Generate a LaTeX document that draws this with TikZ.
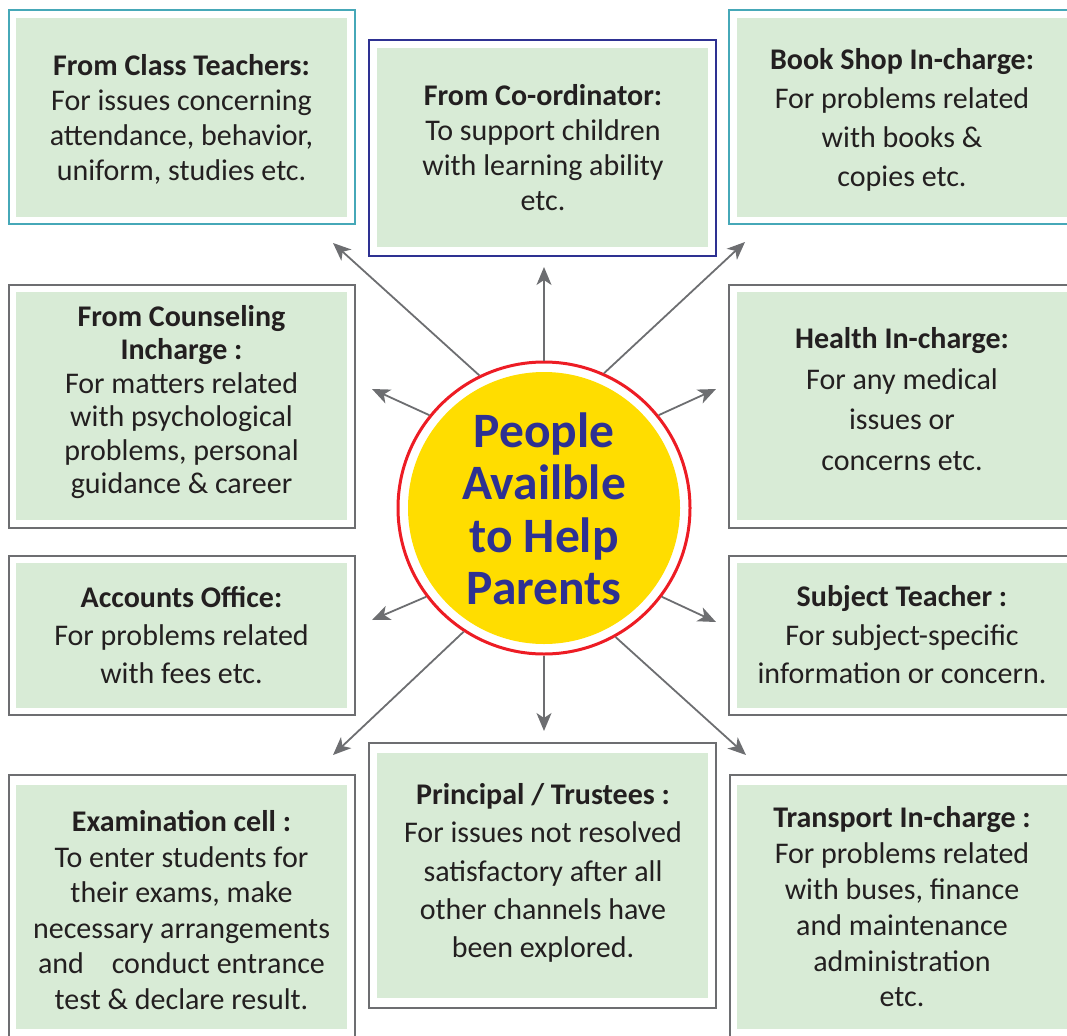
\documentclass[tikz,border=0pt]{standalone}
\usepackage{fontspec}
\setmainfont{Carlito}
\usetikzlibrary{arrows.meta}
\definecolor{boxgreen}{HTML}{D8EBD6}
\definecolor{txtdark}{HTML}{231F20}
\definecolor{tealb}{HTML}{46A8B8}
\definecolor{navyb}{HTML}{2E3192}
\definecolor{grayb}{HTML}{6D6E71}
\definecolor{arrowgray}{HTML}{6D6E71}
\definecolor{hubred}{HTML}{ED1C24}
\definecolor{hubyellow}{HTML}{FFDD00}
\definecolor{hubblue}{HTML}{2E3192}
\begin{document}
\begin{tikzpicture}[x=1pt,y=-1pt,
  frame/.style={line width=1.8pt, fill=white},
  fillbox/.style={fill=boxgreen},
  boxtext/.style={align=center, text=txtdark, inner sep=0pt},
  conn/.style={draw=arrowgray, line width=1.8pt, -{Stealth[length=18pt,width=15pt,inset=5pt]}}]
\useasboundingbox (0,0) rectangle (1067,1035);
\clip (0,0) rectangle (1067,1035);

% ---------- boxes ----------
% 1 Class teachers
\draw[frame, draw=tealb] (9,10) rectangle (355,224);
\fill[fillbox] (16,18) rectangle (347,217);
\node[boxtext, font=\fontsize{30}{35}\selectfont] (b1) at (181.5,119)
 {\textbf{From Class Teachers:}\\For issues concerning\\attendance, behavior,\\uniform, studies etc.};
% 2 Co-ordinator
\draw[frame, draw=navyb] (369,40) rectangle (716,256);
\fill[fillbox] (377,48) rectangle (708,247);
\node[boxtext, font=\fontsize{30}{35}\selectfont] (b2) at (543,148)
 {\textbf{From Co-ordinator:}\\To support children\\with learning ability\\etc.};
% 3 Book shop
\draw[frame, draw=tealb] (729,10) rectangle (1080,224);
\fill[fillbox] (737,18) rectangle (1072,217);
\node[boxtext, font=\fontsize{30}{39}\selectfont] (b3) at (902,120)
 {\textbf{Book Shop In-charge:}\\For problems related\\with books \&\\copies etc.};
% 4 Counseling
\draw[frame, draw=grayb] (9,285) rectangle (355,528);
\fill[fillbox] (16,292) rectangle (347,520);
\node[boxtext, font=\fontsize{30}{33.5}\selectfont] (b4) at (181.5,402)
 {\textbf{From Counseling}\\\textbf{Incharge :}\\For matters related\\with psychological\\problems, personal\\guidance \& career};
% 5 Health
\draw[frame, draw=grayb] (729,285) rectangle (1080,528);
\fill[fillbox] (737,292) rectangle (1072,520);
\node[boxtext, font=\fontsize{30}{40.5}\selectfont] (b5) at (902,399)
 {\textbf{Health In-charge:}\\For any medical\\issues or\\concerns etc.};
% 6 Accounts
\draw[frame, draw=grayb] (9,556) rectangle (355,715);
\fill[fillbox] (16,563) rectangle (347,708);
\node[boxtext, font=\fontsize{30}{38}\selectfont] (b6) at (181.5,635)
 {\textbf{Accounts Office:}\\For problems related\\with fees etc.};
% 7 Subject teacher
\draw[frame, draw=grayb] (729,556) rectangle (1080,715);
\fill[fillbox] (737,563) rectangle (1072,708);
\node[boxtext, font=\fontsize{30}{38.5}\selectfont] (b7) at (902,635)
 {\textbf{Subject Teacher :}\\For subject-specific\\information or concern.};
% 8 Examination cell
\draw[frame, draw=grayb] (9,775) rectangle (355,1050);
\fill[fillbox] (16,785) rectangle (347,1029);
\node[boxtext, font=\fontsize{30}{35.6}\selectfont] (b8) at (181.5,910)
 {\textbf{Examination cell :}\\To enter students for\\their exams, make\\necessary arrangements\\and\hspace{0.7em} conduct entrance\\test \& declare result.};
% 9 Principal
\draw[frame, draw=grayb] (369,743) rectangle (716,1008);
\fill[fillbox] (377,753) rectangle (708,998);
\node[boxtext, font=\fontsize{30}{38.2}\selectfont] (b9) at (543,873)
 {\textbf{Principal / Trustees :}\\For issues not resolved\\satisfactory after all\\other channels have\\been explored.};
% 10 Transport
\draw[frame, draw=grayb] (730,775) rectangle (1080,1050);
\fill[fillbox] (737,785) rectangle (1072,1029);
\node[boxtext, font=\fontsize{30}{35.8}\selectfont] (b10) at (902,907)
 {\textbf{Transport In-charge :}\\For problems related\\with buses, finance\\and maintenance\\administration\\etc.};

% ---------- hub ----------
\node[circle, draw=hubred, line width=3pt, fill=white, minimum size=292pt, inner sep=0pt,
  path picture={\fill[hubyellow] (path picture bounding box.center) circle[radius=136pt];}]
  (hub) at (544,508) {};
\node[align=center, text=hubblue, inner sep=0pt, font=\bfseries\fontsize{49.5}{52.5}\selectfont]
  (hubtext) at (544,509) {People\\Availble\\to Help\\Parents};

% ---------- arrow tips ----------
\coordinate (t1) at (333,243);
\coordinate (t2) at (544,267);
\coordinate (t3) at (745,242);
\coordinate (t4) at (372,389);
\coordinate (t5) at (716,389);
\coordinate (t6) at (372,620);
\coordinate (t7) at (716,622);
\coordinate (t8) at (333,755);
\coordinate (t9) at (544,731);
\coordinate (t10) at (746,755);

\foreach \a/\t in {116.7/t1, 90/t2, 66.4/t3, 141.4/t4, 39.2/t5,
                   217.3/t6, 323.2/t7, 237.5/t8, 270/t9, 299.5/t10}
  \draw[conn] (hub.\a) -- (\t);
\end{tikzpicture}
\end{document}
